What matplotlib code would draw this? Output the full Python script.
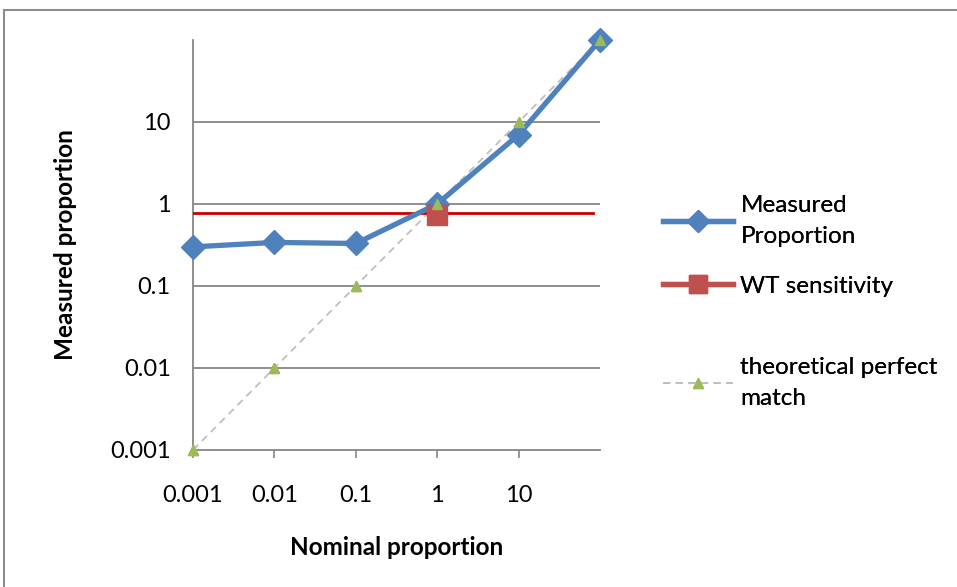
import matplotlib
matplotlib.use("Agg")
import matplotlib.pyplot as plt
from matplotlib.lines import Line2D
from matplotlib.patches import Rectangle

plt.rcParams['font.family'] = ['Lato', 'DejaVu Sans']

# data
nominal = [0.001, 0.01, 0.1, 1, 10, 100]
measured = [0.30, 0.34, 0.33, 1.0, 7.0, 100]
theoretical = [0.001, 0.01, 0.1, 1, 10, 100]
wt_x = [1]
wt_y = [0.73]
wt_line_x = [0.00093, 82]
wt_line_y = [0.78, 0.78]
xtick_vals = [0.001, 0.01, 0.1, 1, 10]
xtick_labels = ["0.001", "0.01", "0.1", "1", "10"]
ytick_vals = [0.001, 0.01, 0.1, 1, 10]
ytick_labels = ["0.001", "0.01", "0.1", "1", "10"]

BLUE = "#4F81BD"
RED = "#C0504D"
GREEN = "#9BBB59"
GRID = "#868686"

fig = plt.figure(figsize=(9.57, 5.87), dpi=100)
ax = fig.add_axes([193 / 957, 1 - 450 / 587, 407 / 957, 410 / 587])

# outer chart frame
fig.patches.append(Rectangle((4 / 957, -0.1), 1.2, 0.1 + 1 - 10 / 587,
                             transform=fig.transFigure, fill=False,
                             edgecolor="#8c8c8c", lw=1.5))

ax.set_xscale("log")
ax.set_yscale("log")
ax.set_xlim(0.001, 100)
ax.set_ylim(0.001, 100)

ax.set_yticks(ytick_vals)
ax.set_yticklabels(ytick_labels)
ax.set_xticks(xtick_vals)
ax.set_xticklabels(xtick_labels)
ax.minorticks_off()
ax.tick_params(axis="y", length=0, labelsize=17, pad=16)
ax.tick_params(axis="x", length=6, width=1.2, color=GRID, labelsize=17, pad=19)

for v in ytick_vals[1:]:
    ax.axhline(v, color=GRID, lw=1.3, zorder=1)

for s in ["top", "right"]:
    ax.spines[s].set_visible(False)
for s in ["left", "bottom"]:
    ax.spines[s].set_color(GRID)
    ax.spines[s].set_linewidth(1.3)

ax.plot(nominal, theoretical, color="#BFBFBF", lw=1.3, ls=(0, (4, 3)),
        marker="^", markersize=7, markerfacecolor=GREEN,
        markeredgecolor=GREEN, zorder=3, clip_on=False)
ax.plot(wt_line_x, wt_line_y, color="#CC0000", lw=2, zorder=4)
ax.plot(nominal, measured, color=BLUE, lw=3.8, marker="D", markersize=12,
        markerfacecolor=BLUE, markeredgecolor=BLUE, zorder=5, clip_on=False)
ax.plot(wt_x, wt_y, ls="none", marker="s", markersize=14,
        markerfacecolor=RED, markeredgecolor=RED, zorder=6)
ax.plot(nominal, theoretical, ls="none", marker="^", markersize=7,
        markerfacecolor=GREEN, markeredgecolor=GREEN, zorder=7, clip_on=False)

ax.set_ylabel("Measured proportion", fontsize=17.5, fontweight="bold", labelpad=24)
ax.set_xlabel("Nominal proportion", fontsize=17.5, fontweight="bold", labelpad=22)

# legend entries placed as separate blocks, like the original
entries = [
    (Line2D([], [], color=BLUE, lw=3.8, marker="D", markersize=11), "Measured\nProportion", 221),
    (Line2D([], [], color=RED, lw=3.8, marker="s", markersize=13), "WT sensitivity", 286),
    (Line2D([], [], color="#BFBFBF", lw=1.3, ls=(0, (4, 3)), marker="^",
            markersize=7, markerfacecolor=GREEN, markeredgecolor=GREEN),
     "theoretical perfect\nmatch", 383),
]
for handle, label, ypix in entries:
    leg = fig.legend([handle], [label], loc="center left",
                     bbox_to_anchor=(663 / 957, 1 - ypix / 587),
                     frameon=False, fontsize=17.5, handlelength=2.9,
                     handletextpad=0.28, borderaxespad=0, borderpad=0)
    for t in leg.get_texts():
        t.set_linespacing(1.55)
    fig.add_artist(leg)

fig.savefig("out.png", dpi=100)
